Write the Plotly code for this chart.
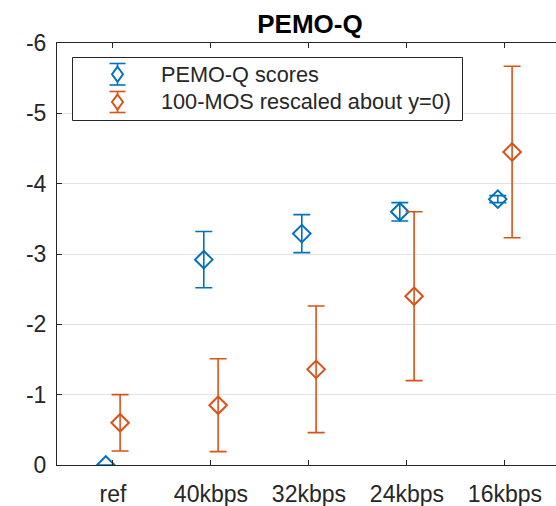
import plotly.graph_objects as go

# Conditions on the x axis
categories = ["ref", "40kbps", "32kbps", "24kbps", "16kbps"]

# PEMO-Q objective scores (mean and symmetric error)
pemo_mean = [0.0, -2.92, -3.29, -3.60, -3.78]
pemo_err = [0.0, 0.40, 0.27, 0.13, 0.05]

# Listening test: 100-MOS rescaled about y=0 (mean and symmetric error)
mos_mean = [-0.60, -0.85, -1.36, -2.40, -4.45]
mos_err = [0.40, 0.66, 0.90, 1.20, 1.22]

y_ticks = [0, -1, -2, -3, -4, -5, -6]

BLUE = "#0072BD"
ORANGE = "#D95319"
TEXT = "#262626"
FONT = "Liberation Sans, Arial, Helvetica, sans-serif"

W, H = 556, 506
ML, MR, MT, MB = 57, 0, 43, 41
offset = 0.073

fig = go.Figure()


def add_series(means, errs, color, name, shift):
    xs = [i + 1 + shift for i in range(len(means))]
    fig.add_trace(go.Scatter(
        x=xs, y=means, mode="markers", name=name, showlegend=False,
        marker=dict(symbol="diamond-open", size=13.5, color=color,
                    line=dict(width=2, color=color)),
        error_y=dict(type="data", array=errs, symmetric=True, visible=True,
                     color=color, thickness=1.6, width=8.5),
    ))


add_series(pemo_mean, pemo_err, BLUE, "PEMO-Q scores", -offset)
add_series(mos_mean, mos_err, ORANGE, "100-MOS rescaled about y=0)", offset)

# Hand-built legend box (error bar + open diamond glyphs)
pw, ph = W - ML - MR, H - MT - MB


def px(x):
    return (x - ML) / pw


def py(y):
    return (H - MB - y) / ph


shapes = [dict(type="rect", xref="paper", yref="paper",
               x0=px(72.5), x1=px(462.5), y0=py(57.5), y1=py(120.5),
               line=dict(color=TEXT, width=1), fillcolor="white", layer="above")]
annotations = []
legend_rows = [("PEMO-Q scores", BLUE, 63.5, 85.0),
               ("100-MOS rescaled about y=0)", ORANGE, 91.5, 112.5)]
cx = 117.5
for label, color, top, bot in legend_rows:
    mid = (top + bot) / 2
    ln = dict(color=color, width=1.6)
    shapes.append(dict(type="line", xref="paper", yref="paper", x0=px(cx), x1=px(cx),
                       y0=py(top), y1=py(bot), line=ln, layer="above"))
    for yy in (top, bot):
        shapes.append(dict(type="line", xref="paper", yref="paper", x0=px(cx - 8), x1=px(cx + 8),
                           y0=py(yy), y1=py(yy), line=ln, layer="above"))
    dx, dy = 5.5, 7.5
    path = (f"M {px(cx)} {py(mid - dy)} L {px(cx + dx)} {py(mid)} "
            f"L {px(cx)} {py(mid + dy)} L {px(cx - dx)} {py(mid)} Z")
    shapes.append(dict(type="path", xref="paper", yref="paper", path=path,
                       line=dict(color=color, width=2), fillcolor="white", layer="above"))
    annotations.append(dict(text=label, xref="paper", yref="paper", x=px(159), y=py(mid),
                            xanchor="left", yanchor="middle", showarrow=False,
                            font=dict(family=FONT, size=21.7, color=TEXT)))

fig.update_layout(
    width=W, height=H,
    margin=dict(l=ML, r=MR, t=MT, b=MB, pad=0),
    paper_bgcolor="white", plot_bgcolor="white",
    showlegend=False,
    title=dict(text="<b>PEMO-Q</b>", x=px(310), xref="paper", xanchor="center",
               y=1 - 24 / H, yanchor="middle",
               font=dict(family=FONT, size=26, color="#000000")),
    shapes=shapes,
    annotations=annotations,
)

fig.update_xaxes(
    range=[0.429, 5.521], tickmode="array", tickvals=[1, 2, 3, 4, 5], ticktext=categories,
    showgrid=False, zeroline=False,
    showline=True, linecolor=TEXT, linewidth=1, mirror="ticks",
    ticks="inside", ticklen=5, tickcolor=TEXT, tickwidth=1,
    tickfont=dict(family=FONT, size=23, color=TEXT), ticklabelstandoff=8,
)
fig.update_yaxes(
    range=[0, -6], tickmode="array", tickvals=y_ticks, ticktext=[str(v) for v in y_ticks],
    showgrid=True, gridcolor="#e3e3e3", gridwidth=1, zeroline=False,
    showline=True, linecolor=TEXT, linewidth=1, mirror=False,
    ticks="inside", ticklen=5, tickcolor=TEXT, tickwidth=1,
    tickfont=dict(family=FONT, size=23, color=TEXT), ticklabelstandoff=5,
)

fig.write_html("out.html")
